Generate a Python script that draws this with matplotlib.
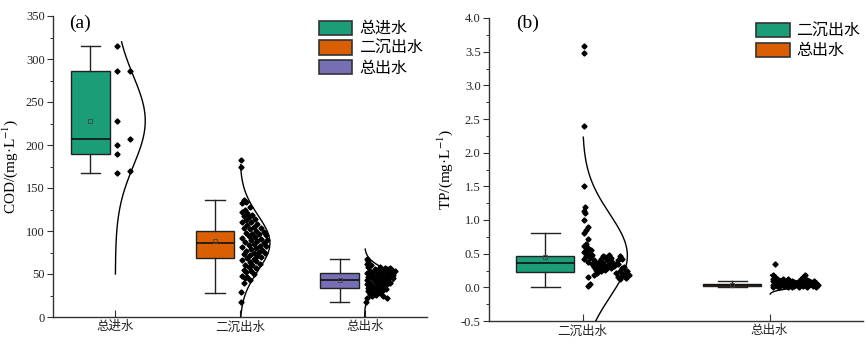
import numpy as np
import matplotlib
matplotlib.use("Agg")
import matplotlib.pyplot as plt
from matplotlib.patches import Patch
from matplotlib.ticker import MultipleLocator, FormatStrFormatter

plt.rcParams['font.family'] = ['Liberation Serif', 'Noto Sans CJK SC']
plt.rcParams['mathtext.fontset'] = 'stix'
plt.rcParams['axes.unicode_minus'] = True

# ---------------- data ----------------
colors = ['#1B9E77', '#D95F02', '#7570B3']

# Panel (a) COD
a_categories = ['总进水', '二沉出水', '总出水']
a_whislo = [167, 28, 18]
a_q1 = [189, 69, 34]
a_med = [207, 86, 43]
a_q3 = [286, 100, 51]
a_whishi = [315, 136, 68]
a_mean = [228, 88, 42.5]
a_curve_mean = [228, 86, 45]
a_curve_sd = [52, 32, 12]
a_curve_lo = [50, 0, 0]
a_curve_hi = [320, 177, 79]

a1_y = [315, 286, 286, 228, 207, 200, 189, 170, 167]
a1_dx = [0.01, 0.01, 0.12, 0.01, 0.12, 0.01, 0.01, 0.12, 0.01]

a2_y = [182, 174, 136, 134, 132, 128, 125, 122, 121, 119, 117, 116, 114, 113, 111, 110,
        108, 107, 105, 104, 103, 102, 100, 99, 98, 97, 96, 95, 94, 93, 92, 91, 90, 89,
        88, 87, 86, 85, 84, 83, 82, 81, 80, 79, 78, 77, 76, 75, 74, 73, 72, 71, 70, 69,
        68, 66, 65, 64, 62, 61, 60, 58, 57, 55, 54, 52, 50, 48, 47, 45, 43, 40, 29, 18]
a2_dx = [0.01, 0.01, 0.03, 0.05, 0.02, 0.08, 0.04, 0.02, 0.06, 0.10, 0.03, 0.07, 0.12, 0.05,
         0.09, 0.02, 0.14, 0.06, 0.11, 0.17, 0.03, 0.08, 0.13, 0.19, 0.05, 0.10, 0.15, 0.21,
         0.07, 0.12, 0.02, 0.17, 0.09, 0.22, 0.14, 0.04, 0.19, 0.11, 0.07, 0.16, 0.21, 0.02,
         0.13, 0.09, 0.18, 0.05, 0.15, 0.11, 0.20, 0.03, 0.08, 0.14, 0.17, 0.06, 0.11, 0.02,
         0.13, 0.08, 0.16, 0.04, 0.10, 0.07, 0.13, 0.03, 0.09, 0.05, 0.11, 0.02, 0.06, 0.04,
         0.08, 0.03, 0.01, 0.01]

a3_y = [68, 65, 62, 60, 58, 58, 57, 57, 56, 56, 55, 55, 54, 54, 53, 53, 52, 52, 51, 51, 50,
        50, 49, 49, 48, 48, 47, 47, 46, 46, 45, 45, 44, 44, 43, 43, 42, 42, 41, 40, 40, 39,
        38, 38, 37, 36, 36, 35, 34, 34, 33, 32, 32, 31, 30, 30, 29, 28, 27, 26, 25, 24, 22,
        22, 18]
a3_dx = [0.02, 0.03, 0.02, 0.05, 0.03, 0.12, 0.16, 0.20, 0.08, 0.18, 0.13, 0.22, 0.04, 0.10,
         0.17, 0.24, 0.07, 0.14, 0.20, 0.02, 0.11, 0.18, 0.05, 0.23, 0.15, 0.09, 0.03, 0.20,
         0.12, 0.17, 0.06, 0.23, 0.10, 0.14, 0.02, 0.19, 0.08, 0.16, 0.12, 0.04, 0.20, 0.09,
         0.14, 0.02, 0.17, 0.06, 0.11, 0.15, 0.03, 0.09, 0.13, 0.05, 0.17, 0.10, 0.03, 0.14,
         0.07, 0.12, 0.04, 0.09, 0.15, 0.06, 0.18, 0.02, 0.01]

# Panel (b) TP
b_categories = ['二沉出水', '总出水']
b_whislo = [0.01, 0.0]
b_q1 = [0.23, 0.015]
b_med = [0.355, 0.03]
b_q3 = [0.465, 0.05]
b_whishi = [0.81, 0.10]
b_mean = [0.45, 0.035]
b_curve_mean = [0.47, 0.045]
b_curve_sd = [0.62, 0.05]
b_curve_lo = [-1.5, -0.10]
b_curve_hi = [2.23, 0.18]

b1_y = [3.58, 3.48, 2.39, 1.50, 1.20, 1.14, 1.10, 1.00, 0.90, 0.85, 0.80, 0.72, 0.65, 0.61,
        0.58, 0.56, 0.55, 0.52, 0.50, 0.48, 0.46, 0.44, 0.42, 0.40, 0.38, 0.36, 0.34, 0.32,
        0.30, 0.28, 0.26, 0.24, 0.22, 0.18, 0.16, 0.05, 0.02,
        0.45, 0.44, 0.42, 0.40, 0.38, 0.36, 0.35, 0.33, 0.32, 0.31, 0.30, 0.29, 0.28, 0.27,
        0.34, 0.40, 0.47, 0.48, 0.26, 0.38,
        0.47, 0.42, 0.35, 0.30, 0.25, 0.22, 0.20, 0.18, 0.17, 0.15, 0.22, 0.14, 0.12, 0.19,
        0.24, 0.28]
b1_dx = [0.01, 0.01, 0.01, 0.01, 0.015, 0.01, 0.015, 0.01, 0.03, 0.02, 0.01, 0.03, 0.02, 0.01,
         0.03, 0.02, 0.045, 0.01, 0.03, 0.05, 0.02, 0.04, 0.01, 0.06, 0.03, 0.07, 0.05, 0.08,
         0.06, 0.09, 0.07, 0.10, 0.08, 0.06, 0.03, 0.04, 0.03,
         0.12, 0.15, 0.10, 0.13, 0.16, 0.11, 0.14, 0.09, 0.12, 0.17, 0.10, 0.13, 0.15, 0.11,
         0.18, 0.19, 0.11, 0.14, 0.12, 0.09,
         0.20, 0.21, 0.19, 0.22, 0.20, 0.23, 0.21, 0.24, 0.22, 0.19, 0.18, 0.23, 0.20, 0.25,
         0.24, 0.21]

b2_y = [0.34, 0.18, 0.15, 0.13, 0.12, 0.11, 0.10, 0.09, 0.08, 0.07, 0.06, 0.05, 0.04, 0.03,
        0.02, 0.03, 0.05, 0.07, 0.04, 0.06, 0.02, 0.08, 0.10, 0.05, 0.03, 0.07, 0.04, 0.09,
        0.12, 0.06, 0.02, 0.05, 0.08, 0.19, 0.15, 0.11, 0.06, 0.03, 0.09, 0.05, 0.07, 0.02,
        0.04, 0.06, 0.03, 0.01, 0.08, 0.10, 0.05, 0.02, 0.01, 0.01, 0.03, 0.00, 0.01, 0.04,
        0.06, 0.13, 0.09, 0.12, 0.01, 0.00]
b2_dx = [0.03, 0.02, 0.03, 0.02, 0.04, 0.03, 0.05, 0.02, 0.04, 0.06, 0.03, 0.05, 0.02, 0.07,
         0.04, 0.09, 0.08, 0.10, 0.11, 0.12, 0.13, 0.13, 0.12, 0.14, 0.15, 0.15, 0.16, 0.16,
         0.17, 0.17, 0.18, 0.18, 0.19, 0.19, 0.18, 0.20, 0.20, 0.21, 0.21, 0.22, 0.23, 0.23,
         0.24, 0.25, 0.26, 0.25, 0.22, 0.24, 0.10, 0.08, 0.05, 0.12, 0.12, 0.16, 0.20, 0.06,
         0.09, 0.07, 0.08, 0.10, 0.02, 0.10]

# ---------------- layout ----------------
BOX_OFF = -0.2
BOX_W = 0.31
CAP_W = 0.155
PEAK = 0.24

fig = plt.figure(figsize=(8.65, 3.44), dpi=100)
ax1 = fig.add_axes([53 / 865, 1 - 317 / 344, 374 / 865, 301 / 344])
ax2 = fig.add_axes([489 / 865, 1 - 321 / 344, 374 / 865, 303 / 344])


def draw_group(ax, pos, color, lo, q1, med, q3, hi, mean, cm, csd, clo, chi, ys, dxs):
    stats = [dict(med=med, q1=q1, q3=q3, whislo=lo, whishi=hi, mean=mean, fliers=[])]
    ax.bxp(stats, positions=[pos + BOX_OFF], widths=BOX_W, capwidths=CAP_W,
           patch_artist=True, showmeans=True, showfliers=False, manage_ticks=False,
           boxprops=dict(facecolor=color, edgecolor='#222222', linewidth=1.0),
           medianprops=dict(color='#111111', linewidth=1.2),
           whiskerprops=dict(color='#222222', linewidth=1.0),
           capprops=dict(color='#222222', linewidth=1.0),
           meanprops=dict(marker='s', markersize=3, markerfacecolor='none',
                          markeredgecolor='#444444', markeredgewidth=0.6),
           zorder=2)
    yy = np.linspace(clo, chi, 300)
    xx = pos + PEAK * np.exp(-0.5 * ((yy - cm) / csd) ** 2)
    ax.plot(xx, yy, color='black', lw=1.0, zorder=3)
    ax.plot(pos + np.asarray(dxs), ys, linestyle='none', marker='D', markersize=2.6,
            color='black', zorder=4)


def style_axis(ax):
    for s in ['top', 'right']:
        ax.spines[s].set_visible(False)
    for s in ['left', 'bottom']:
        ax.spines[s].set_linewidth(1.0)
        ax.spines[s].set_color('#333333')
    ax.tick_params(axis='y', which='major', direction='out', length=4, width=0.8,
                   labelsize=9, pad=2, colors='#333333', labelcolor='#222222')
    ax.tick_params(axis='y', which='minor', direction='out', length=2, width=0.7,
                   colors='#333333')
    ax.tick_params(axis='x', which='major', direction='in', length=5, width=0.8,
                   labelsize=9, pad=3, colors='#333333', labelcolor='#222222')


# Panel (a)
a_points_y = [a1_y, a2_y, a3_y]
a_points_dx = [a1_dx, a2_dx, a3_dx]
for i in range(3):
    draw_group(ax1, i + 1, colors[i], a_whislo[i], a_q1[i], a_med[i], a_q3[i], a_whishi[i],
               a_mean[i], a_curve_mean[i], a_curve_sd[i], a_curve_lo[i], a_curve_hi[i],
               a_points_y[i], a_points_dx[i])
ax1.set_xlim(0.5, 3.5)
ax1.set_ylim(0, 350)
ax1.yaxis.set_major_locator(MultipleLocator(50))
ax1.yaxis.set_minor_locator(MultipleLocator(25))
ax1.set_xticks([1, 2, 3])
ax1.set_xticklabels(a_categories)
ax1.set_ylabel('COD/(mg·L$^{-1}$)', fontsize=11, labelpad=4)
style_axis(ax1)
ax1.text(0.043, 1.005, '(a)', transform=ax1.transAxes, fontsize=14, va='top', ha='left')
ax1.legend(handles=[Patch(facecolor=colors[i], edgecolor='#333333', linewidth=1.2,
                          label=a_categories[i]) for i in range(3)],
           loc='upper left', bbox_to_anchor=(0.711, 0.985), frameon=False, fontsize=11.5,
           handlelength=2.1, handleheight=1.0, labelspacing=0.2, handletextpad=0.4,
           borderpad=0, borderaxespad=0)

# Panel (b)
b_points_y = [b1_y, b2_y]
b_points_dx = [b1_dx, b2_dx]
for i in range(2):
    draw_group(ax2, i + 1, colors[i], b_whislo[i], b_q1[i], b_med[i], b_q3[i], b_whishi[i],
               b_mean[i], b_curve_mean[i], b_curve_sd[i], b_curve_lo[i], b_curve_hi[i],
               b_points_y[i], b_points_dx[i])
ax2.set_xlim(0.5, 2.5)
ax2.set_ylim(-0.5, 4.0)
ax2.yaxis.set_major_locator(MultipleLocator(0.5))
ax2.yaxis.set_minor_locator(MultipleLocator(0.25))
ax2.yaxis.set_major_formatter(FormatStrFormatter('%.1f'))
ax2.set_xticks([1, 2])
ax2.set_xticklabels(b_categories)
ax2.set_ylabel('TP/(mg·L$^{-1}$)', fontsize=11, labelpad=4)
style_axis(ax2)
ax2.text(0.072, 1.01, '(b)', transform=ax2.transAxes, fontsize=14, va='top', ha='left')
ax2.legend(handles=[Patch(facecolor=colors[i], edgecolor='#333333', linewidth=1.2,
                          label=b_categories[i]) for i in range(2)],
           loc='upper left', bbox_to_anchor=(0.714, 0.984), frameon=False, fontsize=11.5,
           handlelength=2.1, handleheight=1.0, labelspacing=0.2, handletextpad=0.4,
           borderpad=0, borderaxespad=0)

fig.savefig('out.png', dpi=100)
